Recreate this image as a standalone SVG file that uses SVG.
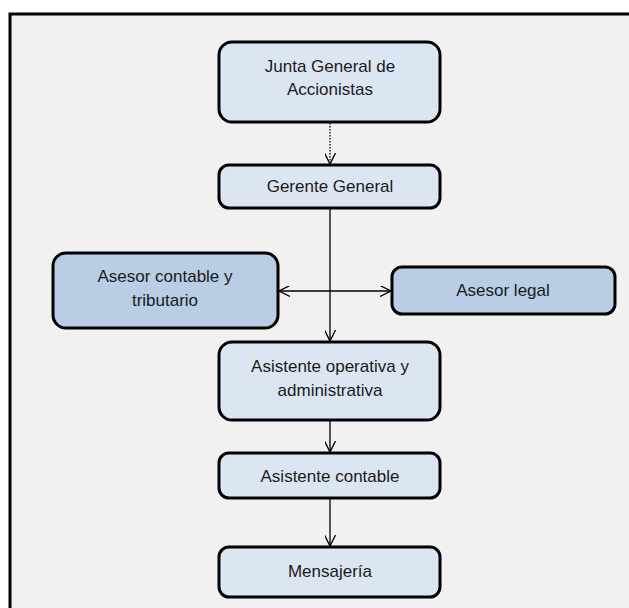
<svg xmlns="http://www.w3.org/2000/svg" width="629" height="608" viewBox="0 0 629 608">
  <style>
    .box { stroke: #000; stroke-width: 3; }
    .light { fill: #dce6f2; }
    .mid { fill: #b9cde5; }
    .lbl { font-family: "Liberation Sans", Arial, sans-serif; font-size: 17px; fill: #1a1a1a; text-anchor: middle; }
    .conn { fill: none; stroke: #000; stroke-width: 1.3; }
  </style>
  <defs>
    <marker id="arrow" viewBox="0 0 10 10" refX="10" refY="5" markerWidth="11" markerHeight="11" markerUnits="userSpaceOnUse" orient="auto-start-reverse">
      <path d="M0,0 L10,5 L0,10" fill="none" stroke="#000" stroke-width="1.2"/>
    </marker>
  </defs>

  <!-- page background and frame -->
  <rect x="0" y="0" width="629" height="608" fill="#ffffff"/>
  <rect x="10" y="14" width="625" height="600" fill="#f1f1f1"/>
  <path d="M10,620 L10,14 L635,14" fill="none" stroke="#000" stroke-width="3"/>

  <g id="connectors">
    <line class="conn" x1="330" y1="123" x2="330" y2="164" stroke-dasharray="1.5 1.5" marker-end="url(#arrow)"/>
    <line class="conn" x1="330" y1="209" x2="330" y2="341" marker-end="url(#arrow)"/>
    <line class="conn" x1="279" y1="291" x2="391" y2="291" marker-start="url(#arrow)" marker-end="url(#arrow)"/>
    <line class="conn" x1="330" y1="421" x2="330" y2="452" marker-end="url(#arrow)"/>
    <line class="conn" x1="330" y1="499" x2="330" y2="546" marker-end="url(#arrow)"/>
  </g>

  <g id="junta">
    <rect class="box light" x="219" y="42" width="221" height="80" rx="13"/>
    <text class="lbl" x="330" y="72">Junta General de</text>
    <text class="lbl" x="330" y="95">Accionistas</text>
  </g>

  <g id="gerente">
    <rect class="box light" x="219" y="165" width="221" height="43" rx="10"/>
    <text class="lbl" x="330" y="192">Gerente General</text>
  </g>

  <g id="asesor-contable">
    <rect class="box mid" x="53" y="253" width="225" height="75" rx="13"/>
    <text class="lbl" x="165" y="282">Asesor contable y</text>
    <text class="lbl" x="165" y="306">tributario</text>
  </g>

  <g id="asesor-legal">
    <rect class="box mid" x="392" y="267" width="223" height="47" rx="10"/>
    <text class="lbl" x="503" y="296">Asesor legal</text>
  </g>

  <g id="asistente-operativa">
    <rect class="box light" x="219" y="342" width="221" height="78" rx="13"/>
    <text class="lbl" x="330" y="372">Asistente operativa y</text>
    <text class="lbl" x="330" y="396">administrativa</text>
  </g>

  <g id="asistente-contable">
    <rect class="box light" x="219" y="453" width="221" height="45" rx="10"/>
    <text class="lbl" x="330" y="482">Asistente contable</text>
  </g>

  <g id="mensajeria">
    <rect class="box light" x="219" y="547" width="221" height="50" rx="10"/>
    <text class="lbl" x="330" y="577">Mensajería</text>
  </g>
</svg>
